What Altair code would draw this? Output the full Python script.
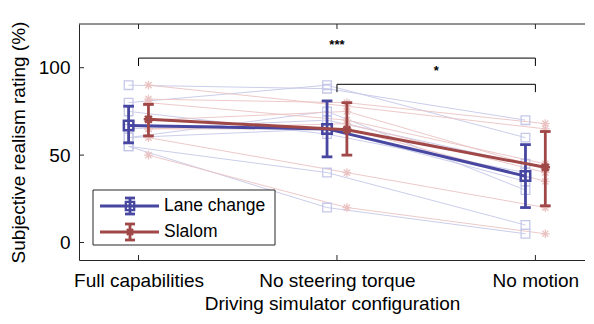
import altair as alt
import pandas as pd

# ---------------- data ----------------
conditions = ["Full capabilities", "No steering torque", "No motion"]
cond_x = [1, 2, 3]

# individual participants (estimated)
lane_full = [90, 80, 75, 65, 60, 60, 55, 55]
lane_nost = [88, 90, 62, 70, 65, 75, 40, 20]
lane_nomo = [70, 60, 40, 45, 35, 30, 10, 5]

slalom_full = [90, 82, 80, 70, 65, 65, 60, 50]
slalom_nost = [78, 80, 70, 75, 68, 65, 40, 20]
slalom_nomo = [65, 68, 45, 42, 40, 35, 20, 5]

# means and error bars
lane_mean = [67, 65, 38]
lane_lo = [57, 49, 20]
lane_hi = [78, 81, 56]
slalom_mean = [70.5, 64.5, 43]
slalom_lo = [61, 50, 21]
slalom_hi = [79, 80, 63.5]

series_names = ["Lane change", "Slalom"]

# significance brackets
br_x1 = [1, 2]
br_x2 = [3, 3]
br_y = [105.5, 90.5]
br_label = ["***", "*"]

y_ticks = [0, 50, 100]

# ---------------- style ----------------
W, H = 506, 236
OFF = 0.05
DARK_BLUE = "#4747a1"
DARK_RED = "#a04747"
LIGHT_BLUE = "#c5c8e8"
LIGHT_RED = "#ebc3c3"
AX = "#262626"
FONT = "Liberation Sans"
ASTER = "M-1,0L1,0M0,-1L0,1M-0.72,-0.72L0.72,0.72M-0.72,0.72L0.72,-0.72"

xscale = alt.Scale(domain=[0.7, 3.25], nice=False, zero=False)
yscale = alt.Scale(domain=[-10, 125], nice=False, zero=False)

label_expr = " : ".join(
    [f"datum.value == {v} ? '{n}'" for v, n in zip(cond_x[:-1], conditions[:-1])]
    + [f"'{conditions[-1]}'"]
)

xaxis = alt.Axis(values=cond_x, labelExpr=label_expr, title="Driving simulator configuration",
                 ticks=False, grid=False, labelPadding=11, titlePadding=4)
yaxis = alt.Axis(values=y_ticks, title="Subjective realism rating (%)", ticks=False,
                 grid=False, labelPadding=9, titlePadding=10)

# individual long-form tables
rows = []
for name, off, cols in [("Lane change", -OFF, [lane_full, lane_nost, lane_nomo]),
                        ("Slalom", OFF, [slalom_full, slalom_nost, slalom_nomo])]:
    for ci, col in enumerate(cols):
        for pid, v in enumerate(col):
            rows.append({"series": name, "pid": pid, "x": cond_x[ci] + off, "value": v})
indiv = pd.DataFrame(rows)
ind_lane = indiv[indiv.series == "Lane change"]
ind_sl = indiv[indiv.series == "Slalom"]

mrows = []
for name, off, m, lo, hi in [("Lane change", -OFF, lane_mean, lane_lo, lane_hi),
                             ("Slalom", OFF, slalom_mean, slalom_lo, slalom_hi)]:
    for i in range(3):
        mrows.append({"series": name, "x": cond_x[i] + off, "xl": cond_x[i] + off - 0.027,
                      "xr": cond_x[i] + off + 0.027, "mean": m[i], "lo": lo[i], "hi": hi[i]})
means = pd.DataFrame(mrows)
m_lane = means[means.series == "Lane change"]
m_sl = means[means.series == "Slalom"]

base_x = alt.X("x:Q", scale=xscale, axis=xaxis)

# individual lines and markers
l1 = alt.Chart(ind_lane).mark_line(color=LIGHT_BLUE, strokeWidth=1, opacity=0.9).encode(
    x=base_x, y=alt.Y("value:Q", scale=yscale, axis=yaxis), detail="pid:N")
l2 = alt.Chart(ind_sl).mark_line(color=LIGHT_RED, strokeWidth=1, opacity=0.9).encode(
    x="x:Q", y="value:Q", detail="pid:N")
p1 = alt.Chart(ind_lane).mark_point(shape="square", filled=False, size=75, strokeWidth=1.3,
                                    color=LIGHT_BLUE, opacity=1).encode(x="x:Q", y="value:Q")
p2 = alt.Chart(ind_sl).mark_point(shape=ASTER, filled=False, size=75, strokeWidth=1.3,
                                  color=LIGHT_RED, opacity=1).encode(x="x:Q", y="value:Q")


def mean_layers(df, color, shape):
    ln = alt.Chart(df).mark_line(color=color, strokeWidth=3).encode(x="x:Q", y="mean:Q")
    eb = alt.Chart(df).mark_rule(color=color, strokeWidth=2.8).encode(x="x:Q", y="lo:Q", y2="hi:Q")
    ct = alt.Chart(df).mark_rule(color=color, strokeWidth=2.8).encode(x="xl:Q", x2="xr:Q", y="hi:Q")
    cb = alt.Chart(df).mark_rule(color=color, strokeWidth=2.8).encode(x="xl:Q", x2="xr:Q", y="lo:Q")
    mk = alt.Chart(df).mark_point(shape=shape, filled=False, size=90, strokeWidth=2.5,
                                  color=color, opacity=1).encode(x="x:Q", y="mean:Q")
    return [ln, eb, ct, cb, mk]


ml = mean_layers(m_lane, DARK_BLUE, "square")
ms = mean_layers(m_sl, DARK_RED, ASTER)

# significance brackets
br = pd.DataFrame({"x1": br_x1, "x2": br_x2, "y": br_y, "label": br_label})
br["yd"] = br["y"] - 4.5
br["xm"] = (br["x1"] + br["x2"]) / 2
br["yt"] = br["y"] + 7.5
bh = alt.Chart(br).mark_rule(color="black", strokeWidth=1).encode(x="x1:Q", x2="x2:Q", y="y:Q")
bv1 = alt.Chart(br).mark_rule(color="black", strokeWidth=1).encode(x="x1:Q", y="yd:Q", y2="y:Q")
bv2 = alt.Chart(br).mark_rule(color="black", strokeWidth=1).encode(x="x2:Q", y="yd:Q", y2="y:Q")
bt = alt.Chart(br).mark_text(font=FONT, fontSize=13, fontWeight="bold", color="black",
                             baseline="middle").encode(x="xm:Q", y="yt:Q", text="label:N")

# frame: top line and inward ticks
one = pd.DataFrame({"a": [0]})
top_line = alt.Chart(one).mark_rule(color=AX, strokeWidth=1).encode(
    x=alt.value(0), x2=alt.value(W), y=alt.value(0))
yt_df = pd.DataFrame({"t": y_ticks})
xt_df = pd.DataFrame({"t": cond_x})
left_ticks = alt.Chart(yt_df).mark_rule(color=AX, strokeWidth=1).encode(
    x=alt.value(0), x2=alt.value(5), y="t:Q")
bot_ticks = alt.Chart(xt_df).mark_rule(color=AX, strokeWidth=1).encode(
    x="t:Q", y=alt.value(H), y2=alt.value(H - 5))
top_ticks = alt.Chart(xt_df).mark_rule(color=AX, strokeWidth=1).encode(
    x="t:Q", y=alt.value(0), y2=alt.value(5))

# legend (manual)
LX0, LX1, LY0, LY1 = 14, 196, 166, 221
leg = [alt.Chart(one).mark_rect(fill="white", stroke=AX, strokeWidth=1).encode(
    x=alt.value(LX0), x2=alt.value(LX1), y=alt.value(LY0), y2=alt.value(LY1))]
for name, color, shape, ry in [(series_names[0], DARK_BLUE, "square", 182),
                               (series_names[1], DARK_RED, ASTER, 208)]:
    cx = 51
    leg += [
        alt.Chart(one).mark_rule(color=color, strokeWidth=3).encode(
            x=alt.value(21), x2=alt.value(80), y=alt.value(ry)),
        alt.Chart(one).mark_rule(color=color, strokeWidth=2.8).encode(
            x=alt.value(cx), y=alt.value(ry - 8), y2=alt.value(ry + 8)),
        alt.Chart(one).mark_rule(color=color, strokeWidth=2.8).encode(
            x=alt.value(cx - 5), x2=alt.value(cx + 5), y=alt.value(ry - 8)),
        alt.Chart(one).mark_rule(color=color, strokeWidth=2.8).encode(
            x=alt.value(cx - 5), x2=alt.value(cx + 5), y=alt.value(ry + 8)),
        alt.Chart(one).mark_point(shape=shape, filled=False, size=70, strokeWidth=2.3,
                                  color=color, opacity=1).encode(
            x=alt.value(cx), y=alt.value(ry)),
        alt.Chart(one).mark_text(text=name, font=FONT, fontSize=17.5, color="black",
                                 align="left", baseline="middle").encode(
            x=alt.value(85), y=alt.value(ry)),
    ]

chart = alt.layer(
    l1, l2, p1, p2, *ml, *ms, bh, bv1, bv2, bt, top_line, left_ticks, bot_ticks, top_ticks, *leg
).properties(
    width=W, height=H,
    padding={"left": 71, "top": 16, "right": 0, "bottom": 54},
    autosize=alt.AutoSizeParams(type="none"),
).configure_view(stroke=None).configure_axis(
    domainColor=AX, domainWidth=1, labelFont=FONT, titleFont=FONT, labelFontSize=19,
    titleFontSize=19, labelColor="black", titleColor="black", titleFontWeight="normal",
)

chart.save("out.html", embed_options={"renderer": "svg", "actions": False})
